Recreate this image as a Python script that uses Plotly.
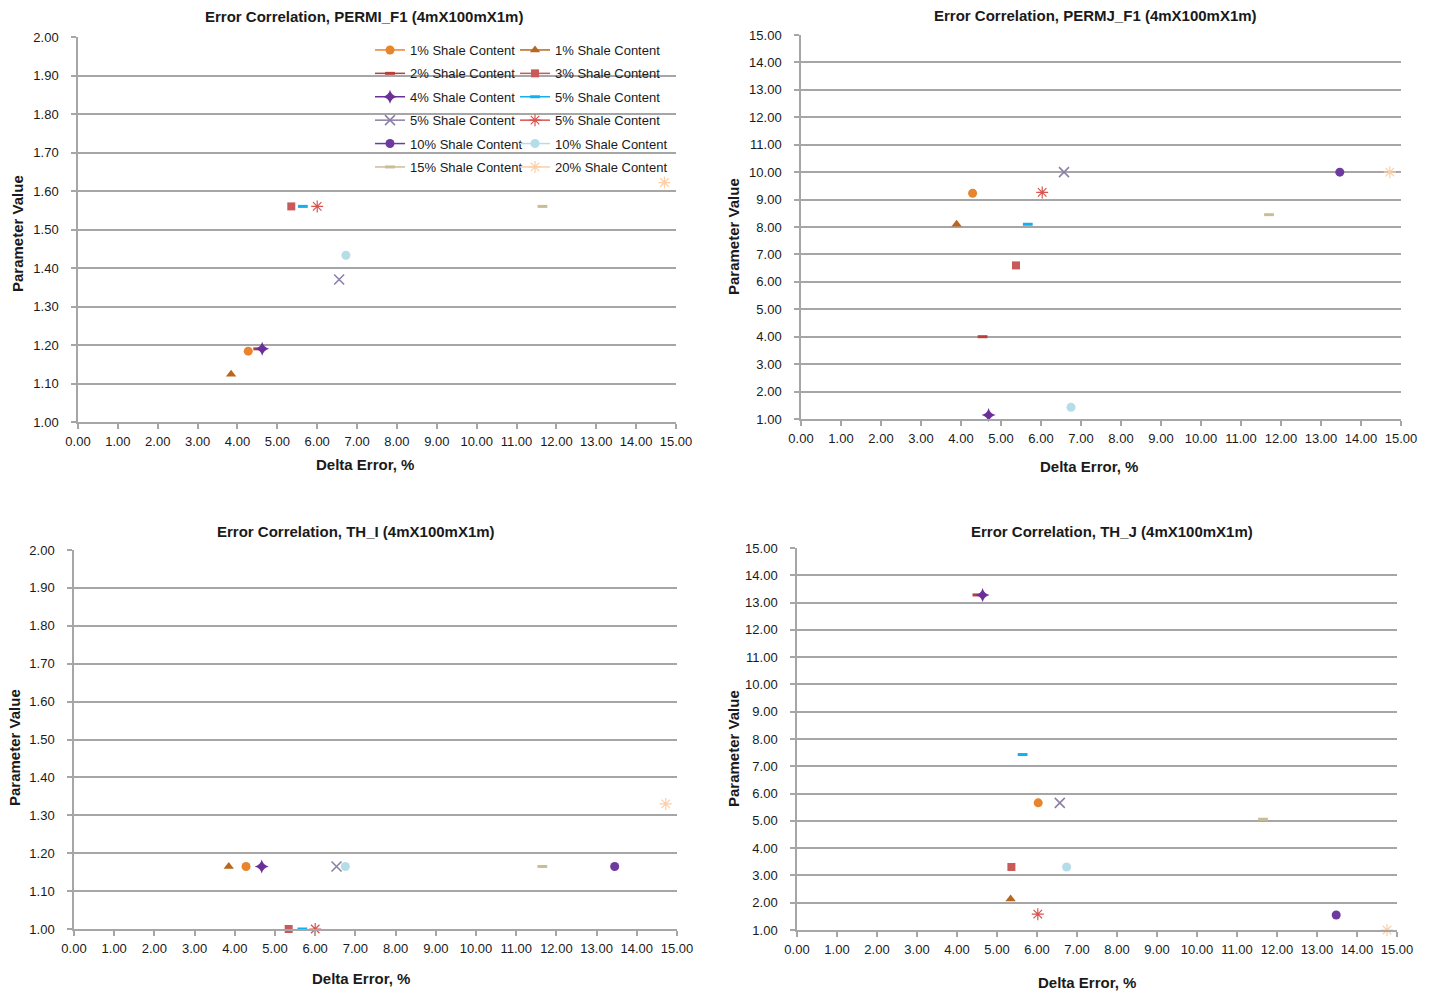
import plotly.graph_objects as go

W, H = 1436, 992

# Series, in legend reading order (row by row, two columns)
series_names = [
    "1% Shale Content", "1% Shale Content",
    "2% Shale Content", "3% Shale Content",
    "4% Shale Content", "5% Shale Content",
    "5% Shale Content", "5% Shale Content",
    "10% Shale Content", "10% Shale Content",
    "15% Shale Content", "20% Shale Content",
]
series_colors = [
    "#e8842c", "#b9661f",
    "#b5403c", "#c95a5a",
    "#6a2f98", "#12b0ee",
    "#8a7da6", "#d9534f",
    "#6f3aa0", "#b5dde8",
    "#c8be96", "#fbcfa8",
]
series_symbols = [
    "circle", "triangle-up",
    "line-ew", "square",
    "star-diamond", "line-ew",
    "x-thin", "asterisk",
    "circle", "circle",
    "line-ew", "asterisk",
]

# Delta error (%) and parameter value of each series, per panel
permi_err = [4.27, 3.84, 4.52, 5.35, 4.62, 5.64, 6.55, 6.00, 13.45, 6.72, 11.65, 14.71]
permi_val = [1.184, 1.124, 1.19, 1.56, 1.19, 1.56, 1.37, 1.56, None, 1.433, 1.56, 1.622]

permj_err = [4.29, 3.89, 4.54, 5.375, 4.69, 5.67, 6.575, 6.03, 13.47, 6.75, 11.70, 14.72]
permj_val = [9.23, 8.10, 4.0, 6.60, 1.15, 8.10, 10.0, 9.26, 10.0, 1.43, 8.45, 10.0]

thi_err = [4.28, 3.85, None, 5.34, 4.67, 5.68, 6.53, 6.00, 13.45, 6.75, 11.65, 14.72]
thi_val = [1.165, 1.165, None, 1.0, 1.165, 1.0, 1.165, 1.0, 1.165, 1.165, 1.165, 1.33]

thj_err = [6.03, 5.34, 4.51, 5.36, 4.64, 5.64, 6.57, 6.02, 13.48, 6.74, 11.65, 14.75]
thj_val = [5.66, 2.14, 13.28, 3.31, 13.28, 7.43, 5.66, 1.58, 1.55, 3.31, 5.06, 1.0]

panel_titles = [
    "Error Correlation, PERMI_F1 (4mX100mX1m)",
    "Error Correlation, PERMJ_F1 (4mX100mX1m)",
    "Error Correlation, TH_I (4mX100mX1m)",
    "Error Correlation, TH_J (4mX100mX1m)",
]
x_title = "Delta Error, %"
y_title = "Parameter Value"

panels = [
    (permi_err, permi_val),
    (permj_err, permj_val),
    (thi_err, thi_val),
    (thj_err, thj_val),
]
y_ranges = [(1.0, 2.0, 0.1), (1.0, 15.0, 1.0), (1.0, 2.0, 0.1), (1.0, 15.0, 1.0)]

# plot-area boxes in pixels: left, right, top, bottom
boxes = [
    (78, 676, 37, 422),
    (801, 1401, 35, 419),
    (74, 677, 550, 929),
    (797, 1397, 548, 930),
]


def px_x(v):
    return v / W


def px_y(v):
    return 1 - v / H


marker_line_widths = {"line-ew": 3, "x-thin": 1.5, "asterisk": 1.2}
marker_sizes = {"circle": 9, "triangle-up": 9, "line-ew": 7, "square": 8,
                "star-diamond": 10, "x-thin": 10, "asterisk": 10}

FONT = "Liberation Sans, Arial, sans-serif"
GRID = "#a6a6a6"
TEXT = "#1a1a1a"

fig = go.Figure()

for p, (errs, vals) in enumerate(panels):
    suffix = "" if p == 0 else str(p + 1)
    for i, name in enumerate(series_names):
        sym = series_symbols[i]
        col = series_colors[i]
        fig.add_trace(go.Scatter(
            x=[errs[i]], y=[vals[i]],
            mode="lines+markers",
            name=name,
            xaxis="x" + suffix, yaxis="y" + suffix,
            line=dict(color=col, width=1.5),
            marker=dict(symbol=sym, size=marker_sizes[sym], color=col,
                        line=dict(color=col, width=marker_line_widths.get(sym, 0))),
            showlegend=(p == 0),
            legend="legend" if i % 2 == 0 else "legend2",
            legendgroup="g%d" % i,
            cliponaxis=False,
            hoverinfo="skip",
        ))

layout = dict(
    width=W, height=H,
    margin=dict(l=0, r=0, t=0, b=0, autoexpand=False),
    paper_bgcolor="white",
    plot_bgcolor="white",
    font=dict(family=FONT, size=13, color=TEXT),
    annotations=[],
)

for p, (l, r, t, b) in enumerate(boxes):
    suffix = "" if p == 0 else str(p + 1)
    y0, y1, dy = y_ranges[p]
    layout["xaxis" + suffix] = dict(
        domain=[px_x(l), px_x(r)],
        anchor="y" + suffix,
        range=[0, 15], tick0=0, dtick=1, tickformat=".2f",
        showgrid=False, zeroline=False,
        showline=True, linecolor=GRID, linewidth=1.5,
        ticks="outside", ticklen=5, tickcolor=GRID, tickwidth=1.5,
        tickfont=dict(size=13, family=FONT, color=TEXT),
        ticklabelstandoff=2,
    )
    layout["yaxis" + suffix] = dict(
        domain=[px_y(b), px_y(t)],
        anchor="x" + suffix,
        range=[y0, y1], tick0=y0, dtick=dy, tickformat=".2f",
        showgrid=True, gridcolor=GRID, gridwidth=1.5,
        zeroline=False,
        showline=True, linecolor=GRID, linewidth=1.5,
        ticks="outside", ticklen=5, tickcolor=GRID, tickwidth=1.5,
        tickfont=dict(size=13, family=FONT, color=TEXT),
        ticklabelstandoff=10,
    )

# panel titles and axis titles (pixel centres)
title_pos = [(364, 17), (1095, 16), (356, 531), (1112, 531)]
xtitle_pos = [(365, 464), (1089, 467), (361, 978), (1087, 982)]
ytitle_pos = [(18, 234), (733, 236), (14, 748), (733, 748)]

for p in range(4):
    tx, ty = title_pos[p]
    layout["annotations"].append(dict(
        text="<b>%s</b>" % panel_titles[p], x=px_x(tx), y=px_y(ty),
        xref="paper", yref="paper", showarrow=False,
        xanchor="center", yanchor="middle",
        font=dict(size=15, family=FONT, color=TEXT),
    ))
    ax_, ay_ = xtitle_pos[p]
    layout["annotations"].append(dict(
        text="<b>%s</b>" % x_title, x=px_x(ax_), y=px_y(ay_),
        xref="paper", yref="paper", showarrow=False,
        xanchor="center", yanchor="middle",
        font=dict(size=15, family=FONT, color=TEXT),
    ))
    bx, by = ytitle_pos[p]
    layout["annotations"].append(dict(
        text="<b>%s</b>" % y_title, x=px_x(bx), y=px_y(by),
        xref="paper", yref="paper", showarrow=False, textangle=-90,
        xanchor="center", yanchor="middle",
        font=dict(size=15, family=FONT, color=TEXT),
    ))

legend_common = dict(
    yanchor="top", xanchor="left",
    bgcolor="rgba(0,0,0,0)", borderwidth=0,
    orientation="v", tracegroupgap=3.5,
    font=dict(size=13, family=FONT, color=TEXT),
    itemwidth=30,
)
layout["legend"] = dict(x=px_x(370), y=px_y(35), **legend_common)
layout["legend2"] = dict(x=px_x(515), y=px_y(35), **legend_common)

fig.update_layout(**layout)
fig.write_html("out.html")
